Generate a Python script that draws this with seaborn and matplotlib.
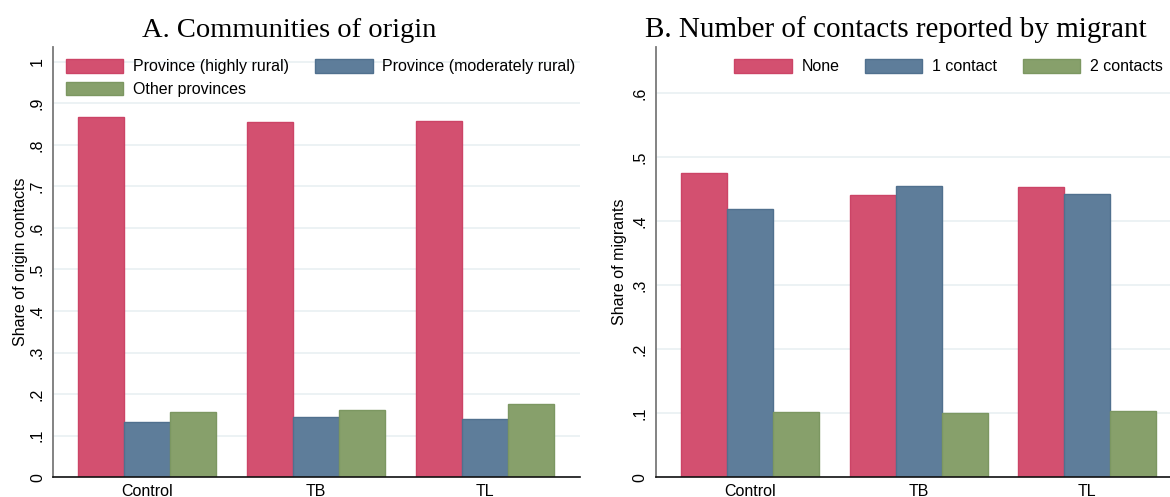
import matplotlib.pyplot as plt
import matplotlib.patches as mpatches
import pandas as pd
import seaborn as sns

sns.set_theme(style="white", rc={"text.color": "black", "axes.labelcolor": "black",
                                 "xtick.color": "black", "ytick.color": "black"})
plt.rcParams["font.family"] = ["Liberation Sans", "DejaVu Sans"]

groups = ["Control", "TB", "TL"]

origin_labels = ["Province (highly rural)", "Province (moderately rural)", "Other provinces"]
origin_high = [0.866, 0.855, 0.858]
origin_moderate = [0.132, 0.144, 0.141]
origin_other = [0.157, 0.163, 0.177]
origin_ticks = [0, 0.1, 0.2, 0.3, 0.4, 0.5, 0.6, 0.7, 0.8, 0.9, 1.0]
origin_tick_labels = ["0", ".1", ".2", ".3", ".4", ".5", ".6", ".7", ".8", ".9", "1"]

contact_labels = ["None", "1 contact", "2 contacts"]
contact_none = [0.476, 0.441, 0.453]
contact_one = [0.419, 0.456, 0.442]
contact_two = [0.102, 0.101, 0.103]
contact_ticks = [0, 0.1, 0.2, 0.3, 0.4, 0.5, 0.6]
contact_tick_labels = ["0", ".1", ".2", ".3", ".4", ".5", ".6"]

face = ["#D35070", "#5E7D9A", "#87A06B"]
edge = ["#CC4466", "#50708E", "#7C9761"]
FS = 11.5


def long_df(labels, series):
    rows = []
    for lab, vals in zip(labels, series):
        for g, v in zip(groups, vals):
            rows.append({"group": g, "series": lab, "share": v})
    return pd.DataFrame(rows)


def draw_panel(ax, df, labels, ticks, tick_labels, ylim, xlim, ylabel, label_x):
    sns.barplot(data=df, x="group", y="share", hue="series", order=groups,
                hue_order=labels, palette=face, width=0.817, saturation=1,
                errorbar=None, legend=False, gap=0, ax=ax)
    for cont, ec in zip(ax.containers, edge):
        for bar in cont:
            bar.set_edgecolor(ec)
            bar.set_linewidth(1)
    ax.set_axisbelow(True)
    ax.yaxis.grid(True, color="#E9F0F2", lw=1.2)
    ax.xaxis.grid(False)
    ax.set_yticks(ticks)
    ax.set_yticklabels(tick_labels, rotation=90, va="center")
    ax.set_ylim(*ylim)
    ax.set_xlim(*xlim)
    ax.set_xlabel("")
    ax.set_ylabel(ylabel, fontsize=FS)
    ax.yaxis.set_label_coords(label_x, 0.5)
    ax.tick_params(axis="x", length=0, pad=5, labelsize=FS)
    ax.tick_params(axis="y", length=4, width=1, color="#777777", labelcolor="black",
                   pad=2, labelsize=FS)
    sns.despine(ax=ax)
    ax.spines["left"].set_color("#7A7A7A")
    ax.spines["left"].set_linewidth(1.3)
    ax.spines["bottom"].set_color("#111111")
    ax.spines["bottom"].set_linewidth(1.2)


fig = plt.figure(figsize=(11.7, 4.97), dpi=100)
W, H = 1170, 497
ax_a = fig.add_axes([53.3 / W, 1 - 477.3 / H, (580 - 53.3) / W, (477.3 - 46.7) / H])
ax_b = fig.add_axes([655.7 / W, 1 - 477.3 / H, (1170 - 655.7) / W, (477.3 - 46.7) / H])

df_a = long_df(origin_labels, [origin_high, origin_moderate, origin_other])
df_b = long_df(contact_labels, [contact_none, contact_one, contact_two])

draw_panel(ax_a, df_a, origin_labels, origin_ticks, origin_tick_labels,
           (0, 1.036), (-0.556, 2.56), "Share of origin contacts", -0.0475)
draw_panel(ax_b, df_b, contact_labels, contact_ticks, contact_tick_labels,
           (0, 0.673), (-0.558, 2.49), "Share of migrants", -0.0558)

legend_kw = dict(loc="upper left", bbox_transform=fig.transFigure, frameon=False,
                 borderpad=0, borderaxespad=0, handlelength=3.6, handleheight=0.94,
                 handletextpad=0.6, fontsize=FS)

handles_a = [mpatches.Patch(facecolor=f, edgecolor=e, label=l) for f, e, l in zip(face, edge, origin_labels)]
handles_a = [handles_a[0], handles_a[2], handles_a[1]]
fig.legend(handles=handles_a, bbox_to_anchor=(65.7 / W, 1 - 59 / H), ncol=2,
           columnspacing=1.65, labelspacing=0.45, **legend_kw)

handles_b = [mpatches.Patch(facecolor=f, edgecolor=e, label=l) for f, e, l in zip(face, edge, contact_labels)]
fig.legend(handles=handles_b, bbox_to_anchor=(734.3 / W, 1 - 59 / H), ncol=3,
           columnspacing=1.6, **legend_kw)

fig.text(289 / W, 1 - 37 / H, "A. Communities of origin", ha="center", va="baseline",
         family=["Liberation Serif", "DejaVu Serif"], fontsize=20.5)
fig.text(896 / W, 1 - 37 / H, "B. Number of contacts reported by migrant", ha="center",
         va="baseline", family=["Liberation Serif", "DejaVu Serif"], fontsize=21)

fig.savefig("out.png", dpi=100)
